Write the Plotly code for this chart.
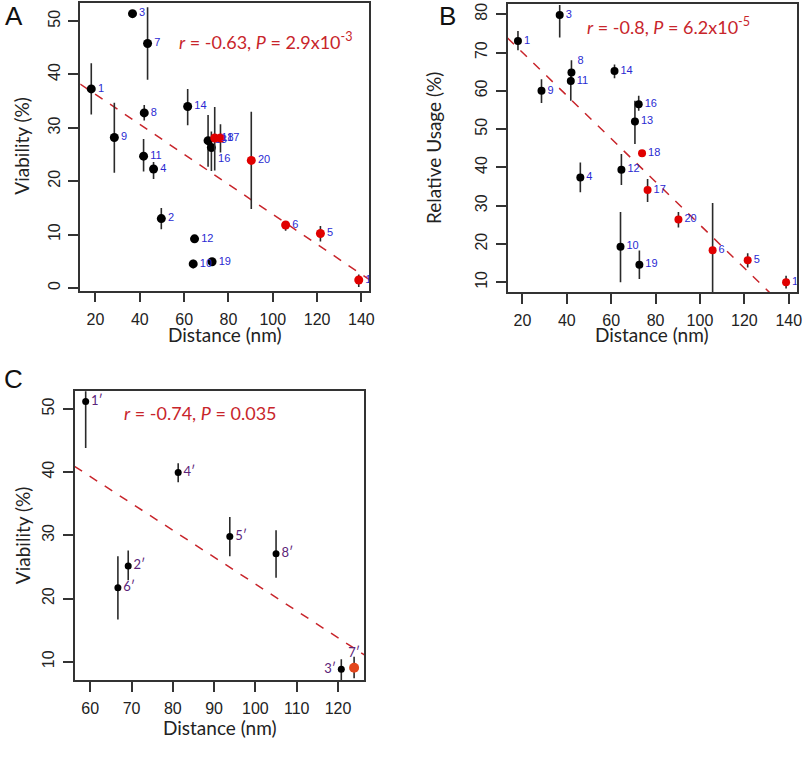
import plotly.graph_objects as go

W, H = 807, 757

# ---------------- Panel A data (Viability vs distance) ----------------
a_labels = ["1", "2", "3", "4", "5", "6", "7", "8", "9", "10",
            "11", "12", "13", "14", "15", "16", "17", "18", "19", "20"]
a_x = [18.1, 49.7, 36.7, 46.2, 121.5, 105.8, 43.5, 42.0, 28.5, 64.1,
       41.7, 64.7, 70.8, 61.6, 138.8, 72.3, 76.4, 73.8, 72.6, 90.3]
a_y = [37.3, 13.0, 51.4, 22.3, 10.2, 11.8, 45.8, 32.8, 28.2, 4.5,
       24.7, 9.2, 27.6, 34.0, 1.5, 26.3, 28.1, 28.1, 4.9, 23.9]
a_hi = [42.1, 15.0, 51.4, 23.6, 11.6, 12.5, 52.6, 34.3, 34.7, 5.3,
        27.9, 9.9, 32.4, 37.3, 2.5, 29.3, 30.7, 33.9, 4.9, 33.0]
a_lo = [32.5, 11.0, 51.4, 20.4, 8.7, 10.7, 39.0, 31.4, 21.6, 3.7,
        21.8, 8.5, 22.7, 30.5, 0.2, 21.9, 25.4, 22.0, 4.9, 14.8]
a_red = ["5", "6", "15", "17", "18", "20"]
a_fit = (41.9, -0.281)   # intercept, slope of dashed line
a_text = "<i>r</i> = -0.63, <i>P</i> = 2.9x10<sup>-3</sup>"

# ---------------- Panel B data (Relative usage vs distance) ----------------
b_labels = ["1", "3", "4", "5", "6", "8", "9", "10", "11", "12",
            "13", "14", "15", "16", "17", "18", "19", "20"]
b_x = [18.0, 36.8, 46.1, 121.5, 105.7, 42.1, 28.6, 64.2, 41.8, 64.6,
       70.7, 61.5, 138.8, 72.4, 76.4, 73.9, 72.7, 90.3]
b_y = [73.0, 79.8, 37.4, 15.8, 18.4, 64.8, 60.0, 19.3, 62.6, 39.4,
       52.0, 65.2, 10.0, 56.5, 34.1, 43.7, 14.6, 26.4]
b_hi = [75.6, 82.4, 41.3, 17.6, 30.7, 68.0, 63.0, 28.4, 64.8, 43.5,
        57.4, 66.9, 11.7, 58.7, 37.0, 43.7, 18.3, 28.4]
b_lo = [70.6, 73.9, 33.5, 13.9, 4.0, 62.6, 56.8, 10.0, 57.4, 35.4,
        46.1, 63.3, 8.4, 54.8, 31.0, 43.7, 10.9, 24.3]
b_red = ["5", "6", "15", "17", "18", "20"]
b_fit = (81.3, -0.563)
b_text = "<i>r</i> = -0.8, <i>P</i> = 6.2x10<sup>-5</sup>"

# ---------------- Panel C data ----------------
c_labels = ["1′", "2′", "3′", "4′", "5′", "6′", "7′", "8′"]
c_x = [58.9, 69.2, 120.8, 81.3, 93.8, 66.7, 123.9, 105.0]
c_y = [51.15, 25.15, 8.8, 39.95, 29.8, 21.7, 9.05, 27.1]
c_hi = [53.5, 27.6, 10.4, 41.4, 32.9, 26.7, 10.8, 30.8]
c_lo = [43.8, 22.9, 6.5, 38.4, 26.7, 16.7, 7.4, 23.3]
c_highlight = ["7′"]
c_fit = (64.8, -0.425)
c_text = "<i>r</i> = -0.74, <i>P</i> = 0.035"

# axis ranges / ticks
a_xr, a_yr = [13.1, 143.6], [-0.5, 53.4]
b_xr, b_yr = [13.3, 143.6], [7.4, 82.6]
c_xr, c_yr = [56.2, 126.4], [7.1, 52.8]
ab_xticks = [20, 40, 60, 80, 100, 120, 140]
a_yticks = [0, 10, 20, 30, 40, 50]
b_yticks = [10, 20, 30, 40, 50, 60, 70, 80]
c_xticks = [60, 70, 80, 90, 100, 110, 120]
c_yticks = [10, 20, 30, 40, 50]

RED = "#e00000"
LINE_RED = "#c8252b"
NUM_BLUE = "#2a2ad2"
PURPLE = "#5b2479"
ERR = "#2a2a2a"


def px2x(p):
    return p / W


def px2y(p):
    return 1 - p / H


fig = go.Figure()


def add_points(xa, ya, labels, x, y, hi, lo, sel, color, size, tcolor, tfont,
               tsize, positions=None, errcolor=ERR):
    idx = [i for i, l in enumerate(labels) if sel(l)]
    if not idx:
        return
    xs = [x[i] for i in idx]
    ys = [y[i] for i in idx]
    fig.add_trace(go.Scatter(
        x=xs, y=ys, xaxis=xa, yaxis=ya,
        mode="markers+text",
        text=[labels[i] for i in idx],
        textposition=[(positions or {}).get(labels[i], "middle right") for i in idx],
        textfont=dict(family=tfont, size=tsize, color=tcolor),
        marker=dict(color=color, size=size, line=dict(width=0)),
        error_y=dict(type="data", symmetric=False,
                     array=[hi[i] - y[i] for i in idx],
                     arrayminus=[y[i] - lo[i] for i in idx],
                     width=0, thickness=1.6, color=errcolor),
        cliponaxis=True, showlegend=False, hoverinfo="skip"))


def add_fit(xa, ya, xr, fit):
    b0, b1 = fit
    fig.add_trace(go.Scatter(
        x=xr, y=[b0 + b1 * xr[0], b0 + b1 * xr[1]], xaxis=xa, yaxis=ya,
        mode="lines", line=dict(color=LINE_RED, width=1.5, dash="dash"),
        showlegend=False, hoverinfo="skip"))


# Panel A
add_fit("x", "y", a_xr, a_fit)
add_points("x", "y", a_labels, a_x, a_y, a_hi, a_lo, lambda l: l not in a_red,
           "black", 9, NUM_BLUE, "Liberation Sans", 11, {"16": "bottom right"})
add_points("x", "y", a_labels, a_x, a_y, a_hi, a_lo, lambda l: l in a_red,
           RED, 9, NUM_BLUE, "Liberation Sans", 11)

# Panel B
add_fit("x2", "y2", b_xr, b_fit)
add_points("x2", "y2", b_labels, b_x, b_y, b_hi, b_lo, lambda l: l not in b_red,
           "black", 8, NUM_BLUE, "Liberation Sans", 11,
           {"8": "top right", "11": "middle right"})
add_points("x2", "y2", b_labels, b_x, b_y, b_hi, b_lo, lambda l: l in b_red,
           RED, 8, NUM_BLUE, "Liberation Sans", 11)

# Panel C
add_fit("x3", "y3", c_xr, c_fit)
add_points("x3", "y3", c_labels, c_x, c_y, c_hi, c_lo,
           lambda l: l not in c_highlight, "black", 7, PURPLE, "Lato", 13,
           {"3′": "middle left"})
add_points("x3", "y3", c_labels, c_x, c_y, c_hi, c_lo,
           lambda l: l in c_highlight, "#e2461c", 10, PURPLE, "Lato", 13,
           {"7′": "top center"})


def axis(domain, rng, ticks, anchor, is_y=False):
    d = dict(domain=domain, range=rng, anchor=anchor, tickmode="array",
             tickvals=ticks, ticktext=[str(t) for t in ticks],
             showline=True, mirror=True, linecolor="#333", linewidth=1.5,
             ticks="outside", ticklen=10, tickwidth=1.5, tickcolor="#333",
             showgrid=False, zeroline=False,
             tickfont=dict(family="Liberation Sans", size=16, color="#222"))
    if is_y:
        d["tickangle"] = -90
        d["ticklabelstandoff"] = 2
    else:
        d["ticklabelstandoff"] = 3
    return d


fig.update_layout(
    width=W, height=H, margin=dict(l=0, r=0, t=0, b=0),
    paper_bgcolor="white", plot_bgcolor="white",
    xaxis=axis([px2x(80.7), px2x(371.7)], a_xr, ab_xticks, "y"),
    yaxis=axis([px2y(290), px2y(2)], a_yr, a_yticks, "x", True),
    xaxis2=axis([px2x(510.7), px2x(801.7)], b_xr, ab_xticks, "y2"),
    yaxis2=axis([px2y(291.7), px2y(3.3)], b_yr, b_yticks, "x2", True),
    xaxis3=axis([px2x(75), px2x(366.7)], c_xr, c_xticks, "y3"),
    yaxis3=axis([px2y(680), px2y(390.7)], c_yr, c_yticks, "x3", True),
)

ann = []


def txt(text, x, y, size, family="Lato", color="#222", angle=0, xanchor="center"):
    ann.append(dict(text=text, x=px2x(x), y=px2y(y), xref="paper", yref="paper",
                    showarrow=False, font=dict(family=family, size=size, color=color),
                    textangle=angle, xanchor=xanchor, yanchor="middle"))


# correlation notes
txt(a_text, 178, 40, 18, color=LINE_RED, xanchor="left")
txt(b_text, 589, 25, 18, color=LINE_RED, xanchor="left")
txt(c_text, 123, 413, 18, color=LINE_RED, xanchor="left")
# axis titles
txt("Distance (nm)", 226, 334, 19)
txt("Viability (%)", 22, 145, 19, angle=-90)
txt("Distance (nm)", 656, 334, 19)
txt("Relative Usage (%)", 437, 147, 19, angle=-90)
txt("Distance (nm)", 221, 727, 19)
txt("Viability (%)", 22, 535, 19, angle=-90)
# panel letters
txt("A", 14, 15, 26, family="Liberation Sans", color="#111")
txt("B", 450, 15, 26, family="Liberation Sans", color="#111")
txt("C", 14, 378, 26, family="Liberation Sans", color="#111")

fig.update_layout(annotations=ann)
fig.write_html("out.html",
               config={"displayModeBar": False},
               post_script="document.body.style.margin='0px';"
                           "document.body.style.overflow='hidden';")
